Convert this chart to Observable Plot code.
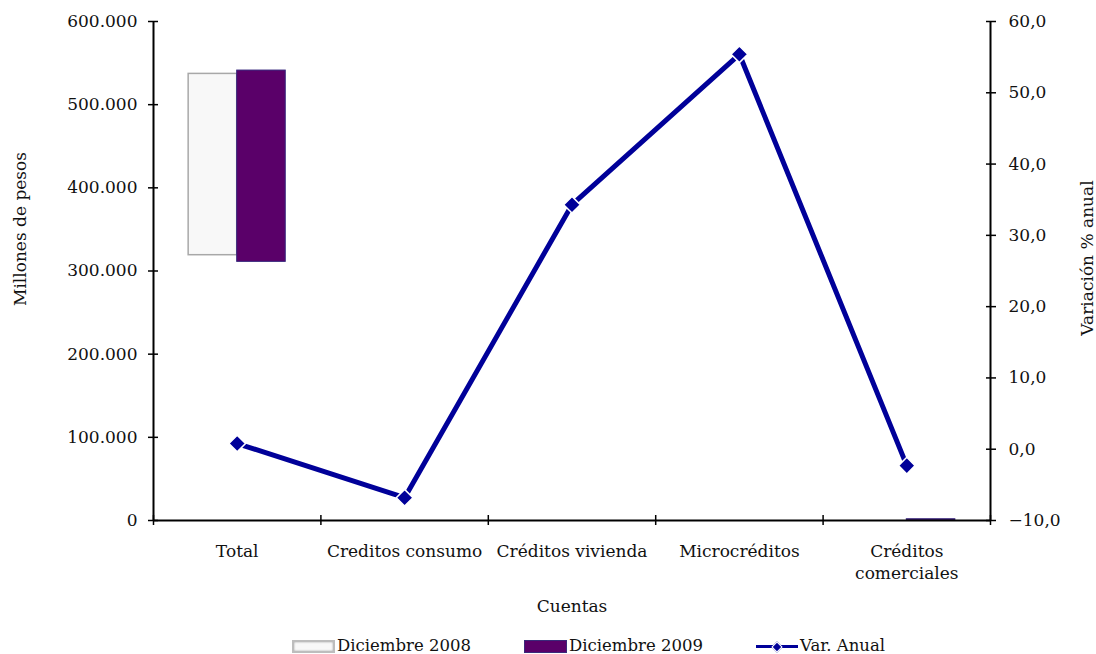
<!DOCTYPE html>
<html>
<head>
<meta charset="utf-8">
<script src="https://cdn.jsdelivr.net/npm/d3@7"></script>
<script src="https://cdn.jsdelivr.net/npm/@observablehq/plot@0.6"></script>
<style>
  body { margin: 0; background: #fff; font-family: "DejaVu Serif", serif; }
  #wrap { position: relative; width: 1096px; height: 654px; }
  #legend { position: absolute; left: 292px; top: 638px; display: flex; align-items: center; font-size: 16.5px; line-height: 16px; color: #111; height: 16px; }
  .sw { display: inline-block; width: 43px; height: 13px; box-sizing: border-box; margin-right: 2px; flex: none; }
  .sw08 { background: #f8f8f8; border: 2px solid #bdbdbd; box-shadow: inset 0 0 2px #999; }
  .sw09 { background: #5a0069; border: 1px solid #3a2a7a; }
  .item { display: flex; align-items: center; white-space: nowrap; }
  .i1, .i2 { width: 232px; }
  .lineSw { position: relative; width: 42px; height: 13px; margin-right: 2px; flex: none; }
  .lineSw .ln { position: absolute; left: 0; right: 0; top: 5px; height: 3px; background: #000099; }
  .lineSw .dm { position: absolute; left: 17px; top: 3px; width: 6px; height: 6px; background: #000099; transform: rotate(45deg); border: 0.5px solid #fff; }
</style>
</head>
<body>
<div id="wrap">
  <div id="chart"></div>
  <div id="legend">
    <div class="item i1"><span class="sw sw08"></span>Diciembre 2008</div>
    <div class="item i2"><span class="sw sw09"></span>Diciembre 2009</div>
    <div class="item"><span class="lineSw"><span class="ln"></span><span class="dm"></span></span>Var. Anual</div>
  </div>
</div>
<script>
// ---- data ----
const categories = ["Total", "Creditos consumo", "Créditos vivienda", "Microcréditos", "Créditos comerciales"];
const tickLabels = ["Total", "Creditos consumo", "Créditos vivienda", "Microcréditos", "Créditos\ncomerciales"];
// floating bars as drawn in the reference (base and top, millones de pesos)
const dic2008Base = [319000, null, null, null, null];
const dic2008Top  = [537000, null, null, null, null];
const dic2009Base = [311000, null, null, null, 0];
const dic2009Top  = [541000, null, null, null, 1500];
// variación % anual
const varAnual = [0.8, -6.8, 34.3, 55.4, -2.3];
const leftTicks = [0, 100000, 200000, 300000, 400000, 500000, 600000];
const rightTicks = [-10, 0, 10, 20, 30, 40, 50, 60];

// ---- helpers ----
const yMax = 600000, pMin = -10, pMax = 60;
const toY = p => (p - pMin) / (pMax - pMin) * yMax;
const fromY = y => y / yMax * (pMax - pMin) + pMin;
const barW = 0.29;

const bars08 = categories.map((c, i) => ({i, base: dic2008Base[i], top: dic2008Top[i]})).filter(d => d.top != null);
const bars09 = categories.map((c, i) => ({i, base: dic2009Base[i], top: dic2009Top[i]})).filter(d => d.top != null);
const lineData = categories.map((c, i) => ({i, v: varAnual[i]}));

const fmtLeft = d => d3.format(",")(d).replace(/,/g, ".");
const fmtRight = d => d3.format(".1f")(Math.round(fromY(d) * 10) / 10).replace(".", ",");

const FS = 17;
const chart = Plot.plot({
  width: 1096,
  height: 634,
  marginLeft: 153,
  marginRight: 106,
  marginTop: 21,
  marginBottom: 114,
  style: { fontFamily: "DejaVu Serif, serif", fontSize: FS + "px", color: "#111", background: "#fff", overflow: "visible" },
  x: { domain: [0, categories.length], axis: null },
  y: { domain: [0, yMax] },
  marks: [
    Plot.rectY(bars08, { x1: d => d.i + 0.5 - barW, x2: d => d.i + 0.5, y1: "base", y2: "top", fill: "#f8f8f8", stroke: "#a8a8a8", strokeWidth: 1.5 }),
    Plot.rectY(bars09, { x1: d => d.i + 0.5, x2: d => d.i + 0.5 + barW, y1: "base", y2: "top", fill: "#5a0069", stroke: "#33237a", strokeWidth: 1 }),
    Plot.ruleX([0, categories.length], { stroke: "#000", strokeWidth: 2 }),
    Plot.ruleY([0], { stroke: "#000", strokeWidth: 2 }),
    Plot.axisY({ anchor: "left", ticks: leftTicks, tickFormat: fmtLeft, tickSize: 10, dx: 5, tickPadding: 11, label: null, stroke: "#000", strokeWidth: 1.5, fontSize: FS }),
    Plot.axisY({ anchor: "right", ticks: rightTicks.map(toY), tickFormat: fmtRight, tickSize: 10, dx: -5, tickPadding: 13, label: null, stroke: "#000", strokeWidth: 1.5, fontSize: FS }),
    Plot.axisX({ anchor: "bottom", ticks: d3.range(0, categories.length + 1), tickFormat: () => "", tickSize: 10, dy: -5, label: null, stroke: "#000", strokeWidth: 1.5 }),
    Plot.text(tickLabels, { x: (d, i) => i + 0.5, frameAnchor: "bottom", lineAnchor: "top", dy: 21, lineHeight: 1.3, fontSize: FS }),
    Plot.text(["Cuentas"], { frameAnchor: "bottom", dy: 91, fontSize: FS }),
    Plot.text(["Millones de pesos"], { frameAnchor: "left", textAnchor: "middle", rotate: -90, dx: -133, dy: -42, fontSize: FS }),
    Plot.text(["Variación % anual"], { frameAnchor: "right", textAnchor: "middle", rotate: -90, dx: 97, dy: -13, fontSize: FS }),
    Plot.line(lineData, { x: d => d.i + 0.5, y: d => toY(d.v), stroke: "#000099", strokeWidth: 5 }),
    Plot.dot(lineData, { x: d => d.i + 0.5, y: d => toY(d.v), symbol: "diamond2", r: 7.5, fill: "#000099", stroke: "#fff", strokeWidth: 1.5 })
  ]
});
document.getElementById("chart").appendChild(chart);
</script>
</body>
</html>
